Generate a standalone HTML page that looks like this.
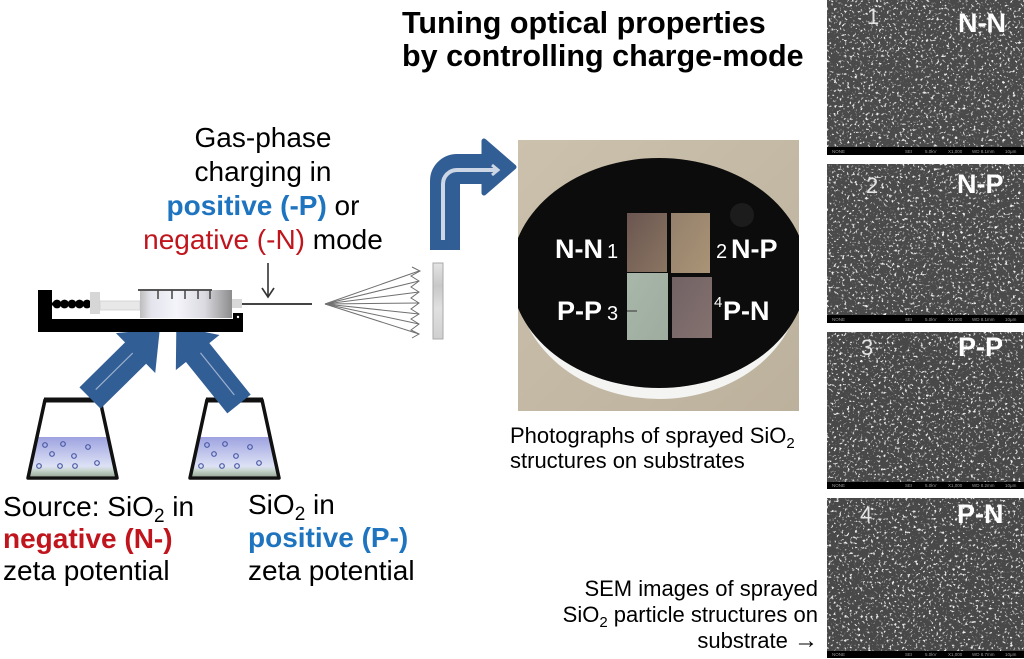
<!DOCTYPE html>
<html><head><meta charset="utf-8"><style>
html,body{margin:0;padding:0;background:#fff;}
svg{display:block;}
text{font-family:"Liberation Sans",Arial,sans-serif;}
</style></head><body>
<svg width="1024" height="659" viewBox="0 0 1024 659" xmlns="http://www.w3.org/2000/svg">
<defs>
<filter id="sp" x="0" y="0" width="100%" height="100%">
<feTurbulence type="fractalNoise" baseFrequency="0.38" numOctaves="2" seed="7" result="n"/>
<feColorMatrix in="n" type="matrix" values="0 0 0 0 0.86  0 0 0 0 0.86  0 0 0 0 0.86  7 0 0 0 -4.15"/>
</filter>
<linearGradient id="barrel" x1="0" y1="0" x2="1" y2="0">
<stop offset="0" stop-color="#bdbdbd"/><stop offset="0.12" stop-color="#e4e4ec"/><stop offset="0.4" stop-color="#f4f4fb"/><stop offset="0.7" stop-color="#dadae0"/><stop offset="1" stop-color="#8c8c8c"/>
</linearGradient>
<linearGradient id="liq" x1="0" y1="0" x2="0" y2="1">
<stop offset="0" stop-color="#9ea3e0"/><stop offset="0.75" stop-color="#dde2f5"/><stop offset="0.85" stop-color="#c9d6cf"/><stop offset="1" stop-color="#9fb09f"/>
</linearGradient>
<linearGradient id="subg" x1="0" y1="0" x2="0" y2="1">
<stop offset="0" stop-color="#e4e4e4"/><stop offset="0.3" stop-color="#c8c8c8"/><stop offset="0.6" stop-color="#e0e0e0"/><stop offset="1" stop-color="#cfcfcf"/>
</linearGradient>
<linearGradient id="beige" x1="0" y1="0" x2="1" y2="1">
<stop offset="0" stop-color="#cbc1ad"/><stop offset="1" stop-color="#bcb19c"/>
</linearGradient>
<linearGradient id="t1" x1="0" y1="0" x2="1" y2="1"><stop offset="0" stop-color="#6a5650"/><stop offset="1" stop-color="#8a7562"/></linearGradient>
<linearGradient id="t2" x1="0" y1="0" x2="1" y2="1"><stop offset="0" stop-color="#94806c"/><stop offset="1" stop-color="#aa9476"/></linearGradient>
<linearGradient id="t3" x1="0" y1="0" x2="1" y2="1"><stop offset="0" stop-color="#a9b7ab"/><stop offset="1" stop-color="#9eac9f"/></linearGradient>
<linearGradient id="t4" x1="0" y1="0" x2="1" y2="1"><stop offset="0" stop-color="#726264"/><stop offset="1" stop-color="#84726f"/></linearGradient>
<clipPath id="pc"><rect x="518" y="140" width="281" height="271"/></clipPath>
</defs>

<!-- Title -->
<text x="402" y="33" font-size="30.5" font-weight="bold" fill="#000">Tuning optical properties</text>
<text x="402" y="66" font-size="30.5" font-weight="bold" fill="#000">by controlling charge-mode</text>

<!-- Gas-phase text -->
<g font-size="28" text-anchor="middle" fill="#000">
<text x="263" y="147">Gas-phase</text>
<text x="263" y="181">charging in</text>
<text x="263" y="215"><tspan font-weight="bold" fill="#1e74bf">positive (-P)</tspan> or</text>
<text x="263" y="249"><tspan fill="#c0151d">negative (-N)</tspan> mode</text>
</g>
<!-- down arrow -->
<line x1="268" y1="263" x2="268" y2="297" stroke="#333" stroke-width="1.6"/>
<polyline points="262,288 268,297 274,288" fill="none" stroke="#333" stroke-width="1.6"/>

<!-- Flasks -->
<g id="f1">
<polygon points="37,437 108,437 116.5,476 28.5,476" fill="url(#liq)"/>
<g fill="none" stroke="#4b5aa6" stroke-width="1.2">
<circle cx="45" cy="445" r="2.3"/><circle cx="63" cy="444" r="2.3"/><circle cx="88" cy="447" r="2.3"/>
<circle cx="52" cy="454" r="2.3"/><circle cx="74" cy="456" r="2.3"/><circle cx="39" cy="466" r="2.3"/>
<circle cx="60" cy="466" r="2.3"/><circle cx="75" cy="466" r="2.3"/><circle cx="97" cy="463" r="2.3"/>
</g>
<polygon points="45,400 100,400 117,478 28,478" fill="none" stroke="#111" stroke-width="3.5" stroke-linejoin="round"/>
<line x1="44" y1="400" x2="101" y2="400" stroke="#111" stroke-width="5"/>
</g>
<use href="#f1" transform="translate(162,0)"/>

<!-- Blue arrows from flasks -->
<g fill="#325e96">
<polygon points="0,-15 64,-15 64,-28 98,0 64,28 64,15 0,15" transform="translate(90,398) rotate(-44.6)"/>
<polygon points="0,-15 66,-15 66,-28 100,0 66,28 66,15 0,15" transform="translate(239,404) rotate(-128.8)"/>
</g>
<g stroke="#c9d4e6" stroke-width="1.2" opacity="0.7">
<line x1="10" y1="-2" x2="62" y2="-2" transform="translate(90,398) rotate(-44.6)"/>
<line x1="10" y1="2" x2="64" y2="2" transform="translate(239,404) rotate(-128.8)"/>
</g>

<!-- Syringe pump -->
<path d="M38,290 H52 V319 H233 V313 H243 V332 H38 Z" fill="#000"/>
<circle cx="238" cy="317" r="1.2" fill="#fff"/>
<line x1="52" y1="304" x2="92" y2="304" stroke="#000" stroke-width="3"/>
<g fill="#000">
<circle cx="57" cy="304" r="4.4"/><circle cx="64.5" cy="304" r="4.4"/><circle cx="72" cy="304" r="4.4"/><circle cx="79.5" cy="304" r="4.4"/><circle cx="87" cy="304" r="4.4"/>
</g>
<rect x="90" y="292" width="10" height="22" fill="#d6d6d6"/>
<rect x="100" y="301" width="40" height="9" fill="#e8e8e8" stroke="#cfcfcf" stroke-width="0.8"/>
<rect x="140" y="290" width="92" height="28" fill="url(#barrel)"/>
<line x1="138" y1="290" x2="212" y2="290" stroke="#555" stroke-width="2"/>
<g stroke="#444" stroke-width="1.5">
<line x1="158" y1="290" x2="158" y2="299"/><line x1="172" y1="290" x2="172" y2="299"/><line x1="185" y1="290" x2="185" y2="299"/><line x1="198" y1="290" x2="198" y2="299"/><line x1="210" y1="290" x2="210" y2="299"/>
</g>
<rect x="232" y="299" width="10" height="9" fill="#d8d8d8"/>
<line x1="242" y1="304" x2="312" y2="304" stroke="#444" stroke-width="2"/>

<!-- Spray -->
<g stroke="#707070" stroke-width="1" fill="none">
<line x1="325" y1="304" x2="419" y2="271"/><line x1="325" y1="304" x2="419" y2="281"/><line x1="325" y1="304" x2="419" y2="292"/>
<line x1="325" y1="304" x2="419" y2="303"/><line x1="325" y1="304" x2="419" y2="314"/><line x1="325" y1="304" x2="419" y2="324"/>
<line x1="325" y1="304" x2="419" y2="334"/>
<polyline points="412,267 420,271 411,276 419,281 411,287 419,292 411,298 419,303 411,309 419,314 411,319 419,324 411,330 419,334 412,338"/>
</g>
<rect x="433" y="263" width="10" height="76" fill="url(#subg)" stroke="#aaa" stroke-width="1"/>

<!-- Curved arrow -->
<path d="M445,250 L445,181 A12,12 0 0 1 457,169 L487,169" fill="none" stroke="#325e96" stroke-width="30"/>
<polygon points="484,141 514,167 484,193" fill="#325e96" stroke="#325e96" stroke-width="5" stroke-linejoin="round"/>
<path d="M443,240 L443,184 A14,14 0 0 1 457,170 L497,170" fill="none" stroke="#cdd6e4" stroke-width="4"/>
<polyline points="492,165 498,170 492,175" fill="none" stroke="#cdd6e4" stroke-width="3"/>

<!-- Photograph -->
<g clip-path="url(#pc)">
<rect x="518" y="140" width="281" height="271" fill="url(#beige)"/>
<ellipse cx="659" cy="281" rx="142" ry="118" fill="#f4f4f2"/>
<ellipse cx="659" cy="273" rx="148" ry="115" fill="#0c0c0c"/>
<circle cx="742" cy="215" r="12" fill="#1c1c1c"/>
</g>
<rect x="627" y="213" width="40" height="59" fill="url(#t1)"/>
<rect x="671" y="213" width="39" height="60" fill="url(#t2)"/>
<rect x="627" y="273" width="41" height="67" fill="url(#t3)"/>
<rect x="672" y="277" width="40" height="61" fill="url(#t4)"/>
<line x1="627" y1="311" x2="637" y2="311" stroke="#333" stroke-width="1"/>
<g fill="#fff">
<text x="555" y="258" font-size="27" font-weight="bold">N-N</text>
<text x="607" y="258" font-size="20">1</text>
<text x="716" y="258" font-size="20">2</text>
<text x="731" y="258" font-size="27" font-weight="bold">N-P</text>
<text x="557" y="320" font-size="27" font-weight="bold">P-P</text>
<text x="607" y="320" font-size="20">3</text>
<text x="714" y="307" font-size="15">4</text>
<text x="723" y="320" font-size="27" font-weight="bold">P-N</text>
</g>
<g font-size="22" fill="#000">
<text x="510" y="443">Photographs of sprayed SiO<tspan font-size="15" dy="5">2</tspan></text>
<text x="510" y="468">structures on substrates</text>
</g>

<!-- Bottom-left texts -->
<g font-size="28" fill="#000">
<text x="3" y="516">Source: SiO<tspan font-size="19" dy="6">2</tspan><tspan dy="-6"> in</tspan></text>
<text x="3" y="548" font-weight="bold" fill="#c0151d">negative (N-)</text>
<text x="3" y="580">zeta potential</text>
<text x="248" y="514">SiO<tspan font-size="19" dy="6">2</tspan><tspan dy="-6"> in</tspan></text>
<text x="248" y="547" font-weight="bold" fill="#1e74bf">positive (P-)</text>
<text x="248" y="580">zeta potential</text>
</g>

<!-- SEM caption -->
<g font-size="22" fill="#000" text-anchor="end">
<text x="818" y="596">SEM images of sprayed</text>
<text x="818" y="622">SiO<tspan font-size="15" dy="5">2</tspan><tspan dy="-5"> particle structures on</tspan></text>
<text x="818" y="648">substrate <tspan font-weight="bold" font-size="24">→</tspan></text>
</g>

<!-- SEM panels -->
<g>
<rect x="827" y="0" width="197" height="155" fill="#4a4a4a"/>
<rect x="827" y="0" width="197" height="147" fill="#fff" filter="url(#sp)"/>
<rect x="827" y="147" width="197" height="8" fill="#000"/>

<rect x="827" y="164" width="197" height="159" fill="#4a4a4a"/>
<rect x="827" y="164" width="197" height="151" fill="#fff" filter="url(#sp)"/>
<rect x="827" y="315" width="197" height="8" fill="#000"/>

<rect x="827" y="332" width="197" height="157" fill="#484848"/>
<rect x="827" y="332" width="197" height="150" fill="#fff" filter="url(#sp)"/>
<rect x="827" y="482" width="197" height="7" fill="#000"/>

<rect x="827" y="498" width="197" height="160" fill="#484848"/>
<rect x="827" y="498" width="197" height="153" fill="#fff" filter="url(#sp)"/>
<rect x="827" y="651" width="197" height="7" fill="#000"/>
</g>
<g font-size="4.5" fill="#9a9a9a">
<text x="832" y="153">NONE</text><text x="905" y="153">SEI</text><text x="925" y="153">5.0kV</text><text x="948" y="153">X1,000</text><text x="972" y="153">WD 8.1mm</text><text x="1005" y="153">10μm</text>
<text x="832" y="321">NONE</text><text x="905" y="321">SEI</text><text x="925" y="321">5.0kV</text><text x="948" y="321">X1,000</text><text x="972" y="321">WD 8.1mm</text><text x="1005" y="321">10μm</text>
<text x="832" y="487">NONE</text><text x="905" y="487">SEI</text><text x="925" y="487">5.0kV</text><text x="948" y="487">X1,000</text><text x="972" y="487">WD 8.2mm</text><text x="1005" y="487">10μm</text>
<text x="832" y="656">NONE</text><text x="905" y="656">SEI</text><text x="925" y="656">5.0kV</text><text x="948" y="656">X1,000</text><text x="972" y="656">WD 8.7mm</text><text x="1005" y="656">10μm</text>
</g>
<g fill="#fff">
<text x="958" y="32" font-size="27" font-weight="bold">N-N</text>
<text x="957" y="193" font-size="27" font-weight="bold">N-P</text>
<text x="958" y="356" font-size="27" font-weight="bold">P-P</text>
<text x="957" y="523" font-size="27" font-weight="bold">P-N</text>
</g>
<g fill="#e4e4e4" font-size="22">
<text x="867" y="24">1</text>
<text x="866" y="193">2</text>
<text x="861" y="355">3</text>
<text x="860" y="522">4</text>
</g>
</svg>
</body></html>
